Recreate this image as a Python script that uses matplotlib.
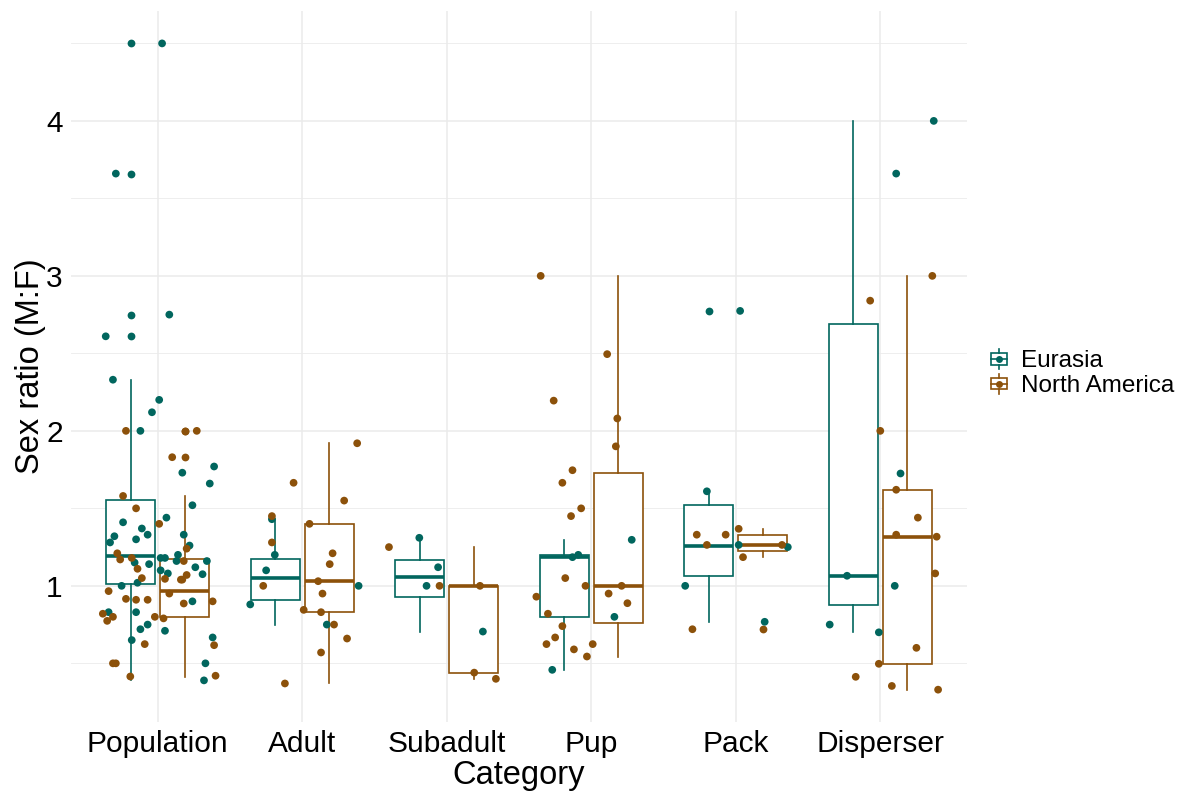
import numpy as np
import matplotlib
matplotlib.use("Agg")
import matplotlib.pyplot as plt
from matplotlib.lines import Line2D
from matplotlib.patches import Rectangle
from matplotlib.legend_handler import HandlerBase

plt.rcParams['font.family'] = ['Liberation Sans', 'DejaVu Sans']

categories = ["Population", "Adult", "Subadult", "Pup", "Pack", "Disperser"]
regions = ["Eurasia", "North America"]
colors = {"Eurasia": "#01665E", "North America": "#8C510A"}

# sex ratio values (M:F), with the jitter offset of each point
pop_eu = [4.5, 3.66, 2.75, 2.61, 2.33, 2.2, 2.12, 2.0, 1.73, 1.77, 1.66, 1.52, 1.44, 1.41, 1.37,
          1.32, 1.33, 1.30, 1.28, 1.33, 1.26, 1.20, 1.18, 1.18, 1.16, 1.15, 1.14, 1.16, 1.12, 1.10,
          1.08, 1.075, 1.02, 1.0, 0.90, 0.83, 0.83, 0.75, 0.72, 0.71, 0.65, 0.667, 0.50, 0.39]
pop_eu_jit = [0.03, -0.29, 0.08, -0.36, -0.31, 0.01, -0.04, -0.12, 0.17, 0.39, 0.36, 0.24, 0.06, -0.24, -0.11,
              -0.30, -0.07, -0.15, -0.33, 0.18, 0.22, 0.14, 0.02, 0.05, 0.13, -0.16, -0.06, 0.34, 0.26, 0.02,
              0.07, 0.31, -0.14, -0.25, 0.24, -0.34, -0.15, -0.07, -0.12, 0.05, -0.18, 0.38, 0.33, 0.32]
pop_na = [2.0, 2.0, 1.83, 1.58, 1.50, 1.40, 1.24, 1.21, 1.17, 1.18, 1.11, 1.16, 1.07, 1.04, 1.04,
          1.05, 1.045, 0.95, 0.966, 0.916, 0.91, 0.91, 0.886, 0.90, 0.82, 0.80, 0.774, 0.80, 0.79,
          0.624, 0.617, 0.50, 0.50, 0.415, 0.42]
pop_na_jit = [-0.22, 0.27, 0.10, -0.24, -0.15, 0.01, 0.20, -0.28, -0.26, -0.18, -0.14, 0.18, 0.20, 0.17, 0.16,
              -0.11, 0.05, 0.08, -0.34, -0.22, -0.15, -0.07, 0.18, 0.38, -0.38, -0.31, -0.35, -0.02, 0.04,
              -0.09, 0.39, -0.31, -0.29, -0.19, 0.40]

adult_eu = [1.43, 1.20, 1.10, 0.88, 1.0, 0.75]
adult_eu_jit = [-0.21, -0.19, -0.25, -0.36, 0.39, 0.17]
adult_na = [1.92, 1.665, 1.55, 1.45, 1.40, 1.28, 1.21, 1.14, 1.0, 1.03, 0.95, 0.845, 0.83, 0.75,
            0.66, 0.57, 0.37]
adult_na_jit = [0.38, -0.06, 0.29, -0.21, 0.05, -0.21, 0.21, 0.19, -0.27, 0.11, 0.14, 0.01, 0.13, 0.22,
                0.31, 0.13, -0.12]

sub_eu = [1.31, 1.12, 1.0, 0.705]
sub_eu_jit = [-0.19, -0.06, -0.14, 0.25]
sub_na = [1.25, 1.0, 1.0, 0.44, 0.40]
sub_na_jit = [-0.40, -0.05, 0.23, 0.19, 0.34]

pup_eu = [1.20, 1.185, 1.297, 0.80, 0.458]
pup_eu_jit = [-0.09, -0.13, 0.28, 0.16, -0.27]
pup_na = [3.0, 2.495, 2.195, 2.08, 1.90, 1.746, 1.665, 1.50, 1.45, 1.05, 1.0, 1.0, 0.93, 0.95, 0.888,
          0.82, 0.74, 0.667, 0.624, 0.624, 0.59, 0.544]
pup_na_jit = [-0.35, 0.11, -0.26, 0.18, 0.17, -0.13, -0.20, -0.07, -0.14, -0.18, -0.04, 0.21, -0.38, 0.12, 0.25,
              -0.30, -0.20, -0.25, -0.31, 0.01, -0.12, -0.03]

pack_eu = [2.774, 1.61, 1.0, 1.264, 1.25, 0.768]
pack_eu_jit = [0.03, -0.20, -0.35, 0.02, 0.36, 0.20]
pack_na = [1.33, 1.33, 1.264, 1.368, 1.185, 1.264, 0.72]
pack_na_jit = [-0.27, -0.07, -0.20, 0.02, 0.05, 0.32, -0.30]

disp_eu = [4.0, 3.66, 1.725, 1.065, 1.0, 0.75, 0.70]
disp_eu_jit = [0.37, 0.11, 0.14, -0.23, 0.10, -0.35, -0.01]
disp_na = [2.84, 3.0, 2.0, 1.62, 1.44, 1.33, 1.317, 1.08, 0.60, 0.497, 0.413, 0.354, 0.33]
disp_na_jit = [-0.07, 0.36, 0.0, 0.11, 0.26, 0.11, 0.39, 0.38, 0.25, -0.01, -0.17, 0.08, 0.40]

eu_vals = [pop_eu, adult_eu, sub_eu, pup_eu, pack_eu, disp_eu]
eu_jits = [pop_eu_jit, adult_eu_jit, sub_eu_jit, pup_eu_jit, pack_eu_jit, disp_eu_jit]
na_vals = [pop_na, adult_na, sub_na, pup_na, pack_na, disp_na]
na_jits = [pop_na_jit, adult_na_jit, sub_na_jit, pup_na_jit, pack_na_jit, disp_na_jit]

fig = plt.figure(figsize=(11.9, 7.92), dpi=100)
ax = fig.add_axes([0.0597, 0.0884, 0.7529, 0.8976])

pos = np.arange(1, len(categories) + 1)
dodge = 0.1875
point_size = 31

for vals, offset, region in [(eu_vals, -dodge, "Eurasia"), (na_vals, dodge, "North America")]:
    c = colors[region]
    ax.boxplot(vals, positions=pos + offset, widths=0.34, whis=1.5, patch_artist=True,
               manage_ticks=False,
               boxprops=dict(facecolor="white", edgecolor=c, linewidth=1.2),
               whiskerprops=dict(color=c, linewidth=1.2),
               capprops=dict(linewidth=0),
               medianprops=dict(color=c, linewidth=2.6, solid_capstyle="butt"),
               flierprops=dict(marker="o", markerfacecolor=c, markeredgecolor="none", markersize=5.6),
               zorder=2)

for vals, jits, region in [(eu_vals, eu_jits, "Eurasia"), (na_vals, na_jits, "North America")]:
    for i in range(len(categories)):
        x = pos[i] + np.array(jits[i])
        ax.scatter(x, vals[i], s=point_size, color=colors[region], edgecolors="none", zorder=3)

ax.set_xlim(0.4, 6.6)
ax.set_ylim(0.1215, 4.7085)
ax.set_xticks(pos)
ax.set_xticklabels(categories)
ax.set_yticks([1, 2, 3, 4])
ax.set_yticks([0.5, 1.5, 2.5, 3.5, 4.5], minor=True)
ax.grid(True, which="major", color="#EBEBEB", linewidth=1.1, zorder=0)
ax.grid(True, which="minor", axis="y", color="#EBEBEB", linewidth=0.6, zorder=0)
ax.set_axisbelow(True)
for s in ax.spines.values():
    s.set_visible(False)
ax.tick_params(axis="both", which="both", length=0, labelsize=21.5, colors="black", pad=6)
ax.set_xlabel("Category", fontsize=23.5, labelpad=1)
ax.set_ylabel("Sex ratio (M:F)", fontsize=23.5, labelpad=0)


class BoxKey(HandlerBase):
    def create_artists(self, legend, orig_handle, xdescent, ydescent, width, height, fontsize, trans):
        c = orig_handle.get_color()
        x0, y0 = -xdescent, -ydescent
        cx, cy = x0 + width / 2, y0 + height / 2
        bw, bh = width * 0.75, height * 0.55
        rect = Rectangle((cx - bw / 2, cy - bh / 2), bw, bh, facecolor="white", edgecolor=c,
                         linewidth=1.2, transform=trans)
        whisk1 = Line2D([cx, cx], [y0, cy - bh / 2], color=c, linewidth=1.2, transform=trans)
        whisk2 = Line2D([cx, cx], [cy + bh / 2, y0 + height], color=c, linewidth=1.2, transform=trans)
        med = Line2D([cx - bw / 2, cx + bw / 2], [cy, cy], color=c, linewidth=1.2, transform=trans)
        dot = Line2D([cx], [cy], marker="o", color=c, markersize=5, markeredgecolor="none",
                     linestyle="none", transform=trans)
        return [rect, whisk1, whisk2, med, dot]


handles = [Line2D([], [], color=colors[r]) for r in regions]
fig.legend(handles, regions, loc="center left", bbox_to_anchor=(0.816, 0.529), frameon=False,
           fontsize=17.5, handler_map={Line2D: BoxKey()}, handlelength=0.9, handleheight=0.9,
           handletextpad=0.45, labelspacing=0.05, borderpad=0.2)

fig.savefig("out.png", dpi=100)
